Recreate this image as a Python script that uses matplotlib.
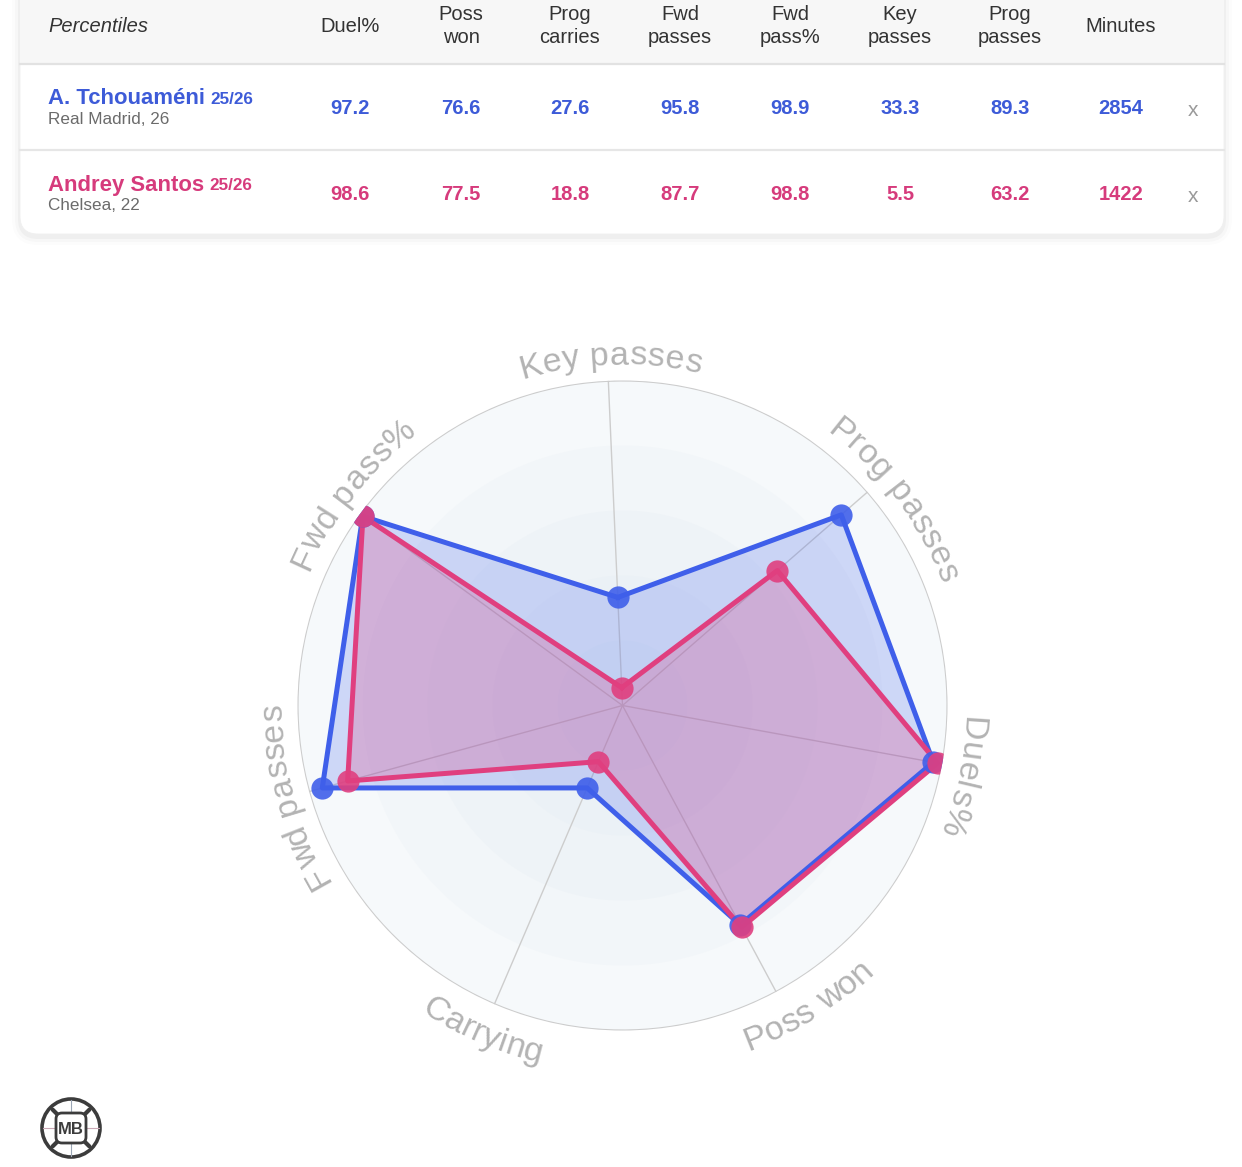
import numpy as np
import matplotlib
matplotlib.use("Agg")
import matplotlib.pyplot as plt
from matplotlib.patches import FancyBboxPatch, Rectangle, Circle
from matplotlib.font_manager import FontProperties

# ---------------- data ----------------
header_title = "Percentiles"
columns = ["Duel%", "Poss\nwon", "Prog\ncarries", "Fwd\npasses", "Fwd\npass%",
           "Key\npasses", "Prog\npasses", "Minutes"]
players = ["A. Tchouaméni", "Andrey Santos"]
seasons = ["25/26", "25/26"]
clubs = ["Real Madrid, 26", "Chelsea, 22"]
tch_table = ["97.2", "76.6", "27.6", "95.8", "98.9", "33.3", "89.3", "2854"]
san_table = ["98.6", "77.5", "18.8", "87.7", "98.8", "5.5", "63.2", "1422"]

radar_labels = ["Key passes", "Prog passes", "Duels%", "Poss won", "Carrying",
                "Fwd passes", "Fwd pass%"]
tch_radar = [33.3, 89.3, 97.2, 76.6, 27.6, 95.8, 98.9]
san_radar = [5.5, 63.2, 98.6, 77.5, 18.8, 87.7, 98.8]

# ---------------- style ----------------
W, H, DPI = 1242, 1167, 100
FONT = "Liberation Sans"
BLUE_TXT = "#3d5bd8"
PINK_TXT = "#d63b7c"
BLUE = "#3f5fea"
PINK = "#e03f7f"
LABEL_COL = "#b3b3b3"
# small angular nudges (degrees) of the curved labels
label_nudge = [-0.5, -4.0, -1.5, 3.5, 0.0, 0.0, -2.0]

fig = plt.figure(figsize=(W / DPI, H / DPI), dpi=DPI)
fig.patch.set_facecolor("white")

bg = fig.add_axes([0, 0, 1, 1])
bg.set_xlim(0, W)
bg.set_ylim(H, 0)
bg.axis("off")

# ---------------- table card ----------------
for pad, a in [(8, 0.012), (5, 0.02), (2, 0.03)]:
    bg.add_patch(FancyBboxPatch((20 - pad, -30 - pad + 3), 1204 + 2 * pad, 264 + 2 * pad,
                                boxstyle=f"round,pad=0,rounding_size={18 + pad}",
                                fc="black", ec="none", alpha=a, zorder=1))
card = FancyBboxPatch((20, -30), 1204, 264, boxstyle="round,pad=0,rounding_size=18",
                      fc="white", ec="#f0f0f0", lw=0.6, zorder=2)
bg.add_patch(card)
hdr = Rectangle((20, -30), 1204, 94, fc="#f7f7f7", ec="none", zorder=3)
bg.add_patch(hdr)
hdr.set_clip_path(card)
bg.plot([20, 1224], [64, 64], color="#e2e2e2", lw=1.6, zorder=4)
bg.plot([20, 1224], [150, 150], color="#e6e6e6", lw=1.6, zorder=4)

bg.text(48, 26, header_title, fontstyle="italic", fontsize=14.5, family=FONT,
        color="#333333", ha="left", va="center", zorder=5)
col_x = [350, 461, 570, 680, 790, 900, 1010, 1121]
for x, c in zip(col_x, columns):
    bg.text(x, 26, c, fontsize=14.5, family=FONT, color="#333333", ha="center",
            va="center", multialignment="center", linespacing=1.33, zorder=5)

renderer = fig.canvas.get_renderer()
row_y = [107, 193]
for i, (name, season, club, vals, col) in enumerate(
        zip(players, seasons, clubs, [tch_table, san_table], [BLUE_TXT, PINK_TXT])):
    y = row_y[i]
    t = bg.text(48, y - 8, name, fontsize=15.9, fontweight="bold", family=FONT,
                color=col, ha="left", va="center", zorder=5)
    bb = t.get_window_extent(renderer)
    bg.text(bb.x1 + 5, y - 7, season, fontsize=12.3, fontweight="bold", family=FONT,
            color=col, ha="left", va="center", zorder=5)
    bg.text(48, y + 12, club, fontsize=12.3, family=FONT, color="#6b6b6b",
            ha="left", va="center", zorder=5)
    for x, v in zip(col_x, vals):
        bg.text(x, y + 1, v, fontsize=14.5, fontweight="bold", family=FONT, color=col,
                ha="center", va="center", zorder=5)
    bg.text(1193, y + 3, "x", fontsize=15, family=FONT, color="#9a9a9a",
            ha="center", va="center", zorder=5)

# ---------------- logo ----------------
bg.add_patch(Circle((71, 1128), 29, fc="white", ec="#3c3c3c", lw=2.6, zorder=5))
for ang in np.deg2rad([0, 90, 180, 270]):
    bg.plot([71 + 14 * np.cos(ang), 71 + 28 * np.cos(ang)],
            [1128 + 14 * np.sin(ang), 1128 + 28 * np.sin(ang)],
            color="#c9a7b5" if ang in (0, np.pi) else "#9aa5b5", lw=0.8, zorder=5)
for ang in np.deg2rad([45, 135, 225, 315]):
    bg.plot([71 + 18 * np.cos(ang), 71 + 26 * np.cos(ang)],
            [1128 + 18 * np.sin(ang), 1128 + 26 * np.sin(ang)],
            color="#3c3c3c", lw=3, solid_capstyle="round", zorder=5)
bg.add_patch(FancyBboxPatch((56, 1113), 30, 30, boxstyle="round,pad=0,rounding_size=6",
                            fc="white", ec="#3c3c3c", lw=2, zorder=6))
bg.text(71, 1129, "MB", fontsize=12, fontweight="bold", family=FONT, color="#3c3c3c",
        ha="center", va="center", zorder=7)

# ---------------- radar ----------------
CX, CY, R_PX = 622.5, 705.5, 325.0
OFFSET = 92.5
rad = fig.add_axes([(CX - R_PX) / W, (H - CY - R_PX) / H, 2 * R_PX / W, 2 * R_PX / H],
                   projection="polar")
rad.set_theta_offset(np.deg2rad(OFFSET))
rad.set_theta_direction(-1)
rad.set_ylim(0, 100)
rad.set_xticks([])
rad.set_yticks([])
rad.grid(False)
rad.spines["polar"].set_visible(False)
rad.patch.set_alpha(0)

n = len(radar_labels)
theta = np.arange(n) * 2 * np.pi / n
tt = np.linspace(0, 2 * np.pi, 361)

ring_levels = [100, 80, 60, 40, 20]
ring_colors = ["#f6f9fb", "#f2f6f9", "#eef3f7", "#ebf1f6", "#e8eff5"]
for lev, c in zip(ring_levels, ring_colors):
    rad.fill(tt, np.full_like(tt, lev), color=c, lw=0, zorder=0)
for th in theta:
    rad.plot([th, th], [0, 100], color="#cdcdcd", lw=1.0, zorder=1)
rad.plot(tt, np.full_like(tt, 100), color="#cccccc", lw=1.5, zorder=1)

th_c = np.append(theta, theta[0])
for vals, col, fa in [(tch_radar, BLUE, 0.22), (san_radar, PINK, 0.25)]:
    v = np.append(vals, vals[0])
    rad.fill(th_c, v, color=col, alpha=fa, lw=0, zorder=2)
    rad.plot(th_c, v, color=col, lw=3.6, zorder=3, solid_joinstyle="round")
    rad.plot(theta, vals, "o", ms=16, color=col, alpha=0.9, mec="none", zorder=4)

# curved labels
fp = FontProperties(family=FONT, size=24.5)


def text_w(s):
    w, h, d = renderer.get_text_width_height_descent(s, fp, ismath=False)
    return w


base_w = text_w("ll")


def adv(c):
    return text_w("l" + c + "l") - base_w


def arc_label(ax, label, phi0, spacing=0.4):
    flipped = np.sin(np.deg2rad(phi0)) < -0.5
    widths = [adv(c) + spacing for c in label]
    total = sum(widths)
    if flipped:
        r_px, sign, rot_off = 367.0, 1, 90
    else:
        r_px, sign, rot_off = 341.0, -1, -90
    r_data = r_px / R_PX * 100
    start = phi0 - sign * np.rad2deg(total / 2 / r_px)
    cum = 0.0
    for ch, w in zip(label, widths):
        phi = start + sign * np.rad2deg((cum + w / 2) / r_px)
        cum += w
        if ch == " ":
            continue
        ax.text(np.deg2rad(OFFSET - phi), r_data, ch, rotation=phi + rot_off,
                rotation_mode="anchor", ha="center", va="baseline",
                fontproperties=fp, color=LABEL_COL, zorder=5)


for i, lab in enumerate(radar_labels):
    phi0 = OFFSET - np.rad2deg(theta[i]) + label_nudge[i]
    arc_label(rad, lab, phi0)

fig.savefig("out.png", dpi=DPI, facecolor="white")
